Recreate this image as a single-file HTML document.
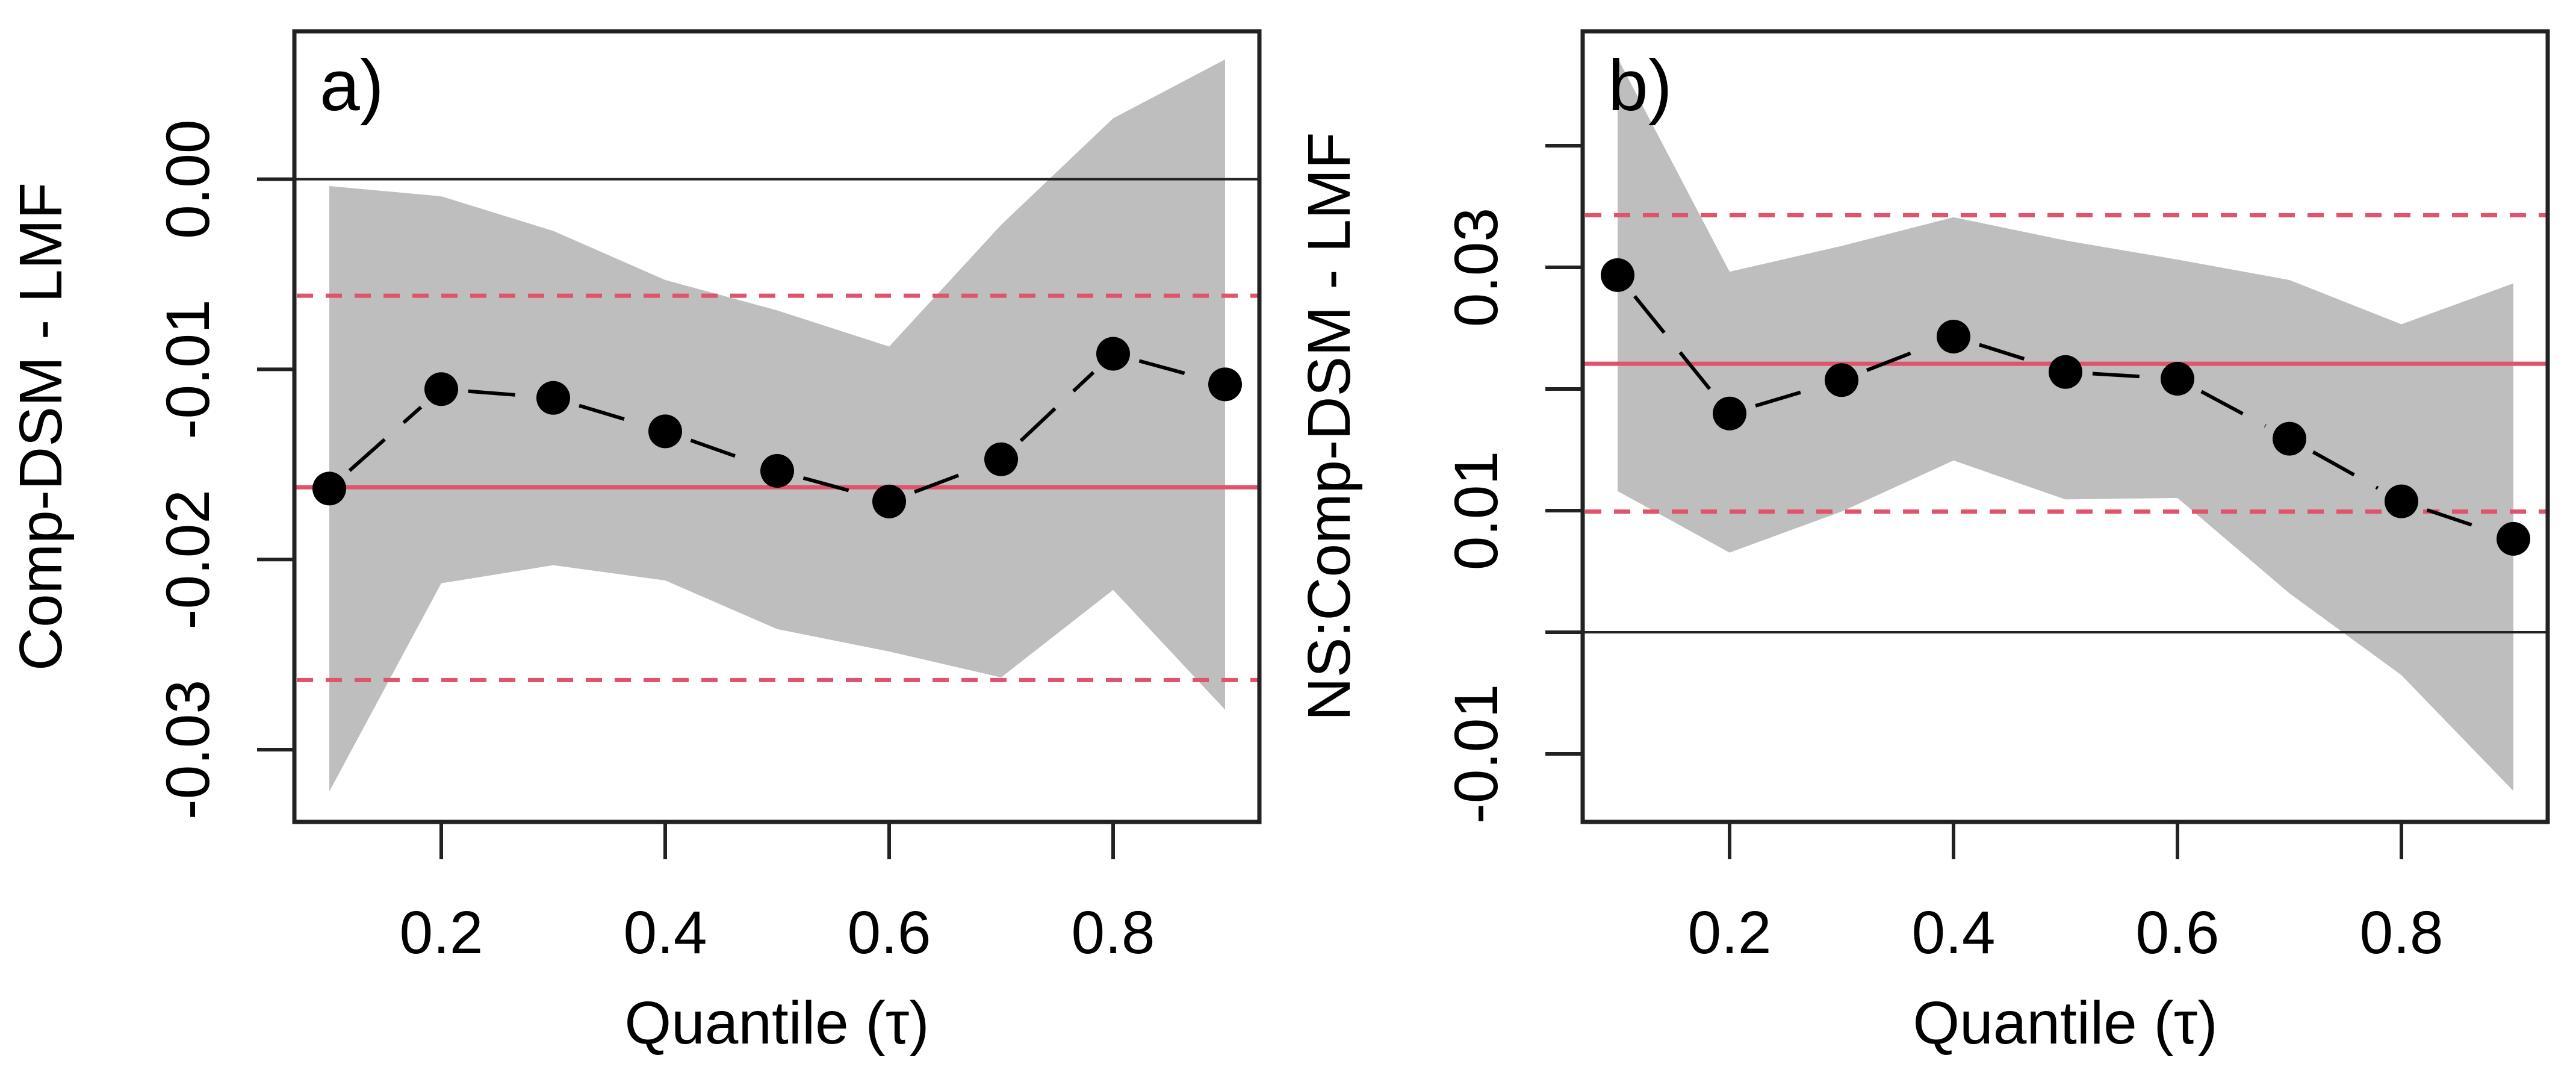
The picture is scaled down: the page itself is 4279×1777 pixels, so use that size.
<!DOCTYPE html>
<html><head><meta charset="utf-8"><style>
html,body{margin:0;padding:0;background:#fff}
svg{display:block}
text{font-family:"Liberation Sans",Arial,sans-serif;fill:#000;font-stretch:condensed}
</style></head><body>
<svg id="chart" width="4279" height="1777" viewBox="0 0 4279 1777" xmlns="http://www.w3.org/2000/svg"></svg>
<script>
const quantiles = [0.1,0.2,0.3,0.4,0.5,0.6,0.7,0.8,0.9];
const xTicks = [0.2,0.4,0.6,0.8];
const xTickLabels = ["0.2","0.4","0.6","0.8"];

const aEst   = [-0.01627,-0.01104,-0.0115,-0.01326,-0.01534,-0.01695,-0.01473,-0.00918,-0.01079];
const aUpper = [-0.00036,-0.0009,-0.00272,-0.0053,-0.0069,-0.0088,-0.0024,0.0032,0.0063];
const aLower = [-0.0322,-0.02125,-0.0203,-0.0211,-0.02366,-0.02484,-0.0262,-0.0216,-0.0279];
const aOls = -0.0162;
const aOlsCI = [-0.00613,-0.02634];
const aYTicks = [0,-0.01,-0.02,-0.03];
const aYTickLabels = ["0.00","-0.01","-0.02","-0.03"];

const bEst   = [0.02936,0.01798,0.02073,0.02431,0.0214,0.02084,0.01591,0.01076,0.00768];
const bUpper = [0.0472,0.02964,0.03176,0.03412,0.03221,0.03064,0.02896,0.02532,0.02868];
const bLower = [0.0116,0.00655,0.00992,0.01412,0.01092,0.01104,0.0032,-0.00353,-0.01305];
const bOls = 0.02207;
const bOlsCI = [0.03429,0.00992];
const bYTicks = [0.04,0.03,0.02,0.01,0,-0.01];
const bYTickLabels = ["","0.03","","0.01","","-0.01"];

const NS = "http://www.w3.org/2000/svg";
const svg = document.getElementById("chart");
function mk(tag, attrs, parent){
  const e = document.createElementNS(NS, tag);
  for (const k in attrs) e.setAttribute(k, attrs[k]);
  (parent||svg).appendChild(e);
  return e;
}

function panel(opt){
  const g = mk("g", {});
  
  
  const L = opt.left, R = opt.left + 1603, T = 52, B = 1365;
  const xs = q => opt.left + 58 + (q - 0.1) / 0.1 * 186;
  const ys = v => opt.zeroY - v / 0.01 * opt.perUnit;

  let d = "M" + quantiles.map((q,i)=>xs(q)+","+ys(opt.upper[i])).join(" L");
  for (let i = quantiles.length-1; i >= 0; i--) d += " L" + xs(quantiles[i]) + "," + ys(opt.lower[i]);
  const band = mk("path", {d: d + " Z", fill: "#bebebe", stroke: "none"}, g);
  
  

  const z = mk("line", {x1:L, x2:R, y1:ys(0), y2:ys(0), stroke:"#222", "stroke-width":4}, g);
  
  

  const ol = mk("line", {x1:L, x2:R, y1:ys(opt.ols), y2:ys(opt.ols), stroke:"#df536b", "stroke-width":7}, g);
  
  
  opt.olsCI.forEach((v)=>{
    const c = mk("line", {x1:L+4, x2:R, y1:ys(v), y2:ys(v), stroke:"#df536b", "stroke-width":7, "stroke-dasharray":"27 21"}, g);
    
    
  });

  for (let i = 0; i < quantiles.length-1; i++){
    const x1 = xs(quantiles[i]), y1 = ys(opt.est[i]), x2 = xs(quantiles[i+1]), y2 = ys(opt.est[i+1]);
    const len = Math.hypot(x2-x1, y2-y1), gap = 45;
    if (len <= 2*gap) continue;
    const ux = (x2-x1)/len, uy = (y2-y1)/len;
    const s = mk("line", {x1:x1+ux*gap, y1:y1+uy*gap, x2:x2-ux*gap, y2:y2-uy*gap, stroke:"#000", "stroke-width":6, "stroke-dasharray":"78 42"}, g);
    
    
  }
  quantiles.forEach((q,i)=>{
    const p = mk("circle", {cx:xs(q), cy:ys(opt.est[i]), r:28, fill:"#000"}, g);
    
    
  });

  const bx = mk("rect", {x:L, y:T, width:R-L, height:B-T, fill:"none", stroke:"#222", "stroke-width":7}, g);
  
  

  xTicks.forEach((q,i)=>{
    const t = mk("line", {x1:xs(q), x2:xs(q), y1:B, y2:B+62, stroke:"#222", "stroke-width":6}, g);
    
    
    const lb = mk("text", {x:xs(q), y:1583, "font-size":100, "text-anchor":"middle"}, g);
    lb.textContent = xTickLabels[i];
    
    
  });
  opt.yTicks.forEach((v,i)=>{
    const t = mk("line", {x1:L-62, x2:L, y1:ys(v), y2:ys(v), stroke:"#222", "stroke-width":6}, g);
    
    
    if (opt.yLabels[i]){
      const lx = L - 142;
      const lb = mk("text", {x:lx, y:ys(v), "font-size":102, "text-anchor":"middle", transform:"rotate(-90 "+lx+" "+ys(v)+")"}, g);
      lb.textContent = opt.yLabels[i];
      
      
    }
  });
  const xt = mk("text", {x:(L+R)/2, y:1733, "font-size":100, "text-anchor":"middle"}, g);
  xt.textContent = "Quantile (τ)";
  
  
  const tx = L - 387, ty = (T+B)/2;
  const yt = mk("text", {x:tx, y:ty, "font-size":100, "text-anchor":"middle", transform:"rotate(-90 "+tx+" "+ty+")"}, g);
  yt.textContent = opt.yTitle;
  
  
  const pl = mk("text", {x:L+42, y:183, "font-size":120}, g);
  pl.textContent = opt.letter;
  
  
}

panel({name:"panel-a", left:489, zeroY:297.6, perUnit:315.8, est:aEst, upper:aUpper, lower:aLower,
  ols:aOls, olsCI:aOlsCI, yTicks:aYTicks, yLabels:aYTickLabels, yTitle:"Comp-DSM - LMF", letter:"a)"});
panel({name:"panel-b", left:2629, zeroY:1050, perUnit:202, est:bEst, upper:bUpper, lower:bLower,
  ols:bOls, olsCI:bOlsCI, yTicks:bYTicks, yLabels:bYTickLabels, yTitle:"NS:Comp-DSM - LMF", letter:"b)"});
</script>
</body></html>
